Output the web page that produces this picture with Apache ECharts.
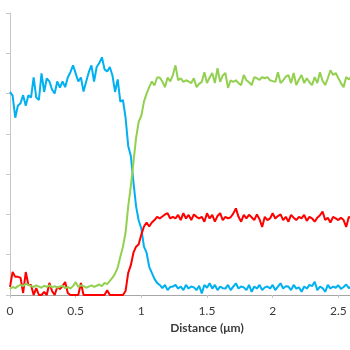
<!DOCTYPE html>
<html>
<head>
<meta charset="utf-8">
<script src="https://cdn.jsdelivr.net/npm/echarts@6/dist/echarts.min.js"></script>
<style>
  html, body { margin: 0; padding: 0; background: #ffffff; }
  #chart { width: 350px; height: 350px; }
</style>
</head>
<body>
<div id="chart"></div>
<script>
// Line-scan profile: sample spacing along the scan (µm)
const STEP = 0.02;

const blueProfile = [
  50.4, 49.5, 44, 47, 47.6, 49.6, 47, 49.6, 49, 54,
  49, 48.4, 55, 50.4, 53.8, 53, 51, 50, 53, 51.5,
  53, 51.6, 54, 55.3, 57, 55, 53, 54, 50.5, 53,
  55.3, 57, 53, 56.6, 57.6, 59, 56, 55.5, 56.6, 54.5,
  50.4, 53.5, 48, 48.4, 44, 37, 34.5, 28, 22, 18.5,
  16.5, 12, 10.5, 7, 5.5, 4, 3, 2.5, 1.7, 2.5,
  1.2, 2.0, 2.1, 2.5, 1.6, 2.1, 1.2, 2.5, 1.6, 2.1,
  1.9, 1.2, 2.3, 0.4, 2.5, 1.8, 2.9, 1.6, 2.5, 1.2,
  2.1, 1.7, 1.6, 2.5, 1.2, 2.1, 2.9, 1.6, 2.1, 1.9,
  1.2, 2.5, 0.8, 2.1, 1.6, 2.5, 1.2, 1.9, 2.1, 1.6,
  2.5, 1.2, 2.1, 2.9, 1.6, 2.2, 2.1, 1.2, 2.5, 1.6,
  1.9, 0.8, 2.1, 1.6, 2.5, 2.2, 3.3, 1.2, 2.1, 1.7,
  0.8, 2.5, 1.6, 2.1, 1.8, 2.4, 1.5, 2.0, 2.6, 1.7,
  2.1
];

const greenProfile = [
  1.5, 2.0, 1.7, 2.2, 2.5, 2.2, 2.8, 2.5, 2.2, 2.0,
  2.4, 2.1, 1.8, 2.3, 2.0, 2.4, 1.9, 2.2, 1.8, 2.1,
  2.3, 1.7, 2.0, 1.6, 2.2, 3.2, 2.0, 2.4, 2.2, 1.8,
  2.1, 2.4, 2.0, 2.3, 2.6, 2.2, 3.0, 2.7, 3.5, 4.3,
  5.3, 6.8, 9.5, 12, 15.5, 22, 27, 33, 39, 43,
  44.5, 48, 50, 51.6, 53, 52, 54, 54, 53, 51.6,
  54, 53, 54.6, 57, 53.3, 53.8, 52.9, 53.3, 53.0, 52.6,
  53.8, 51.6, 52.4, 52.9, 55.3, 52.6, 54, 55.1, 52.6, 56.3,
  52.9, 54.5, 55.1, 51.4, 53.3, 52.9, 53.3, 52.6, 52.1, 54.6,
  53.3, 52.8, 52.1, 54.1, 53.8, 53.4, 54.1, 53.8, 54.1, 53.3,
  53.1, 52.9, 55.3, 52.6, 53.3, 54.2, 54.6, 52.6, 55.1, 52.1,
  53.5, 54.6, 52.6, 53.8, 52.8, 52.1, 54.1, 52.6, 55.3, 53.2,
  52.1, 53.8, 55.8, 54.6, 55.1, 53.8, 52.6, 51.6, 54.1, 53.5,
  54.3
];

const redProfile = [
  2, 5.7, 4.5, 4.5, 4.3, 0.5, 5.7, 2.5, 2.5, 0,
  1.7, 0, 0, 0.8, 0, 3, 1, 0, 2, 1.5,
  2.2, 3.2, 0.5, 0, 0, 0, 0, 3, 0, 0,
  0, 0, 0, 0, 0, 0, 0, 1.2, 0, 0,
  0, 0, 0, 0, 1, 5.5, 7.4, 10.5, 12, 12.6,
  15, 17, 18, 17, 18, 18.6, 19.4, 19, 19.5, 20,
  20.3, 19, 19.4, 19.0, 19.9, 18.6, 20.3, 19.0, 19.9, 18.6,
  20.0, 19.4, 19.0, 19.4, 18.2, 20.3, 19.0, 19.9, 18.2, 19.6,
  20.3, 18.6, 19.4, 19.0, 19.3, 20.2, 21.5, 19.4, 18.2, 19.9,
  19.0, 19.9, 19.3, 18.6, 20.0, 18.8, 16.9, 19.4, 18.6, 19.0,
  20.3, 19.0, 19.6, 20.0, 18.6, 19.4, 18.2, 19.9, 19.2, 18.6,
  19.4, 19.0, 19.9, 18.4, 19.4, 19.0, 18.2, 19.2, 19.8, 20.7,
  18.6, 19.2, 18.0, 19.4, 19.0, 18.6, 19.2, 18.6, 16.9, 19.4,
  19.0
];

const xTickLabels = ['0', '0.5', '1', '1.5', '2', '2.5', '3'];

function withDistance(values) {
  return values.map((v, i) => [+(i * STEP).toFixed(2), v]);
}

const axisGrey = '#c8c8c8';
const textColor = '#3a3a3a';
const fontFamily = 'Lato, "Open Sans", sans-serif';

const chart = echarts.init(document.getElementById('chart'), null, { renderer: 'canvas' });

chart.setOption({
  animation: false,
  backgroundColor: '#ffffff',
  grid: {
    left: 10,
    top: 13,
    width: 394,
    height: 282,
    outerBoundsMode: 'none'
  },
  xAxis: [
    {
      type: 'value',
      min: 0,
      max: 3,
      interval: 0.5,
      position: 'bottom',
      name: 'Distance (μm)',
      nameLocation: 'middle',
      nameGap: 27,
      nameTextStyle: {
        fontFamily: fontFamily,
        fontSize: 12,
        fontWeight: 'bold',
        color: textColor
      },
      axisLine: { show: true, onZero: false, lineStyle: { color: axisGrey, width: 1 } },
      axisTick: { show: true, length: 3, lineStyle: { color: axisGrey } },
      axisLabel: {
        margin: 10,
        fontFamily: fontFamily,
        fontSize: 12,
        color: textColor,
        formatter: (v) => xTickLabels[Math.round(v / 0.5)] ?? ''
      },
      splitLine: { show: false }
    },
    {
      type: 'value',
      min: 0,
      max: 3,
      position: 'top',
      axisLine: { show: true, lineStyle: { color: '#a6a6a6', width: 1 } },
      axisTick: { show: false },
      axisLabel: { show: false },
      splitLine: { show: false }
    }
  ],
  yAxis: {
    type: 'value',
    min: 0,
    max: 70,
    interval: 10,
    axisLine: { show: true, lineStyle: { color: axisGrey, width: 1 } },
    axisTick: { show: true, inside: false, length: 4, lineStyle: { color: axisGrey } },
    axisLabel: { show: false },
    splitLine: { show: false }
  },
  series: [
    {
      name: 'blue',
      type: 'line',
      xAxisIndex: 0,
      data: withDistance(blueProfile),
      showSymbol: false,
      lineStyle: { color: '#00b0f0', width: 2 },
      itemStyle: { color: '#00b0f0' },
      z: 2
    },
    {
      name: 'red',
      type: 'line',
      xAxisIndex: 0,
      data: withDistance(redProfile),
      showSymbol: false,
      lineStyle: { color: '#ff0000', width: 2 },
      itemStyle: { color: '#ff0000' },
      z: 3
    },
    {
      name: 'green',
      type: 'line',
      xAxisIndex: 0,
      data: withDistance(greenProfile),
      showSymbol: false,
      lineStyle: { color: '#92d050', width: 2 },
      itemStyle: { color: '#92d050' },
      z: 4
    }
  ]
});
</script>
</body>
</html>
